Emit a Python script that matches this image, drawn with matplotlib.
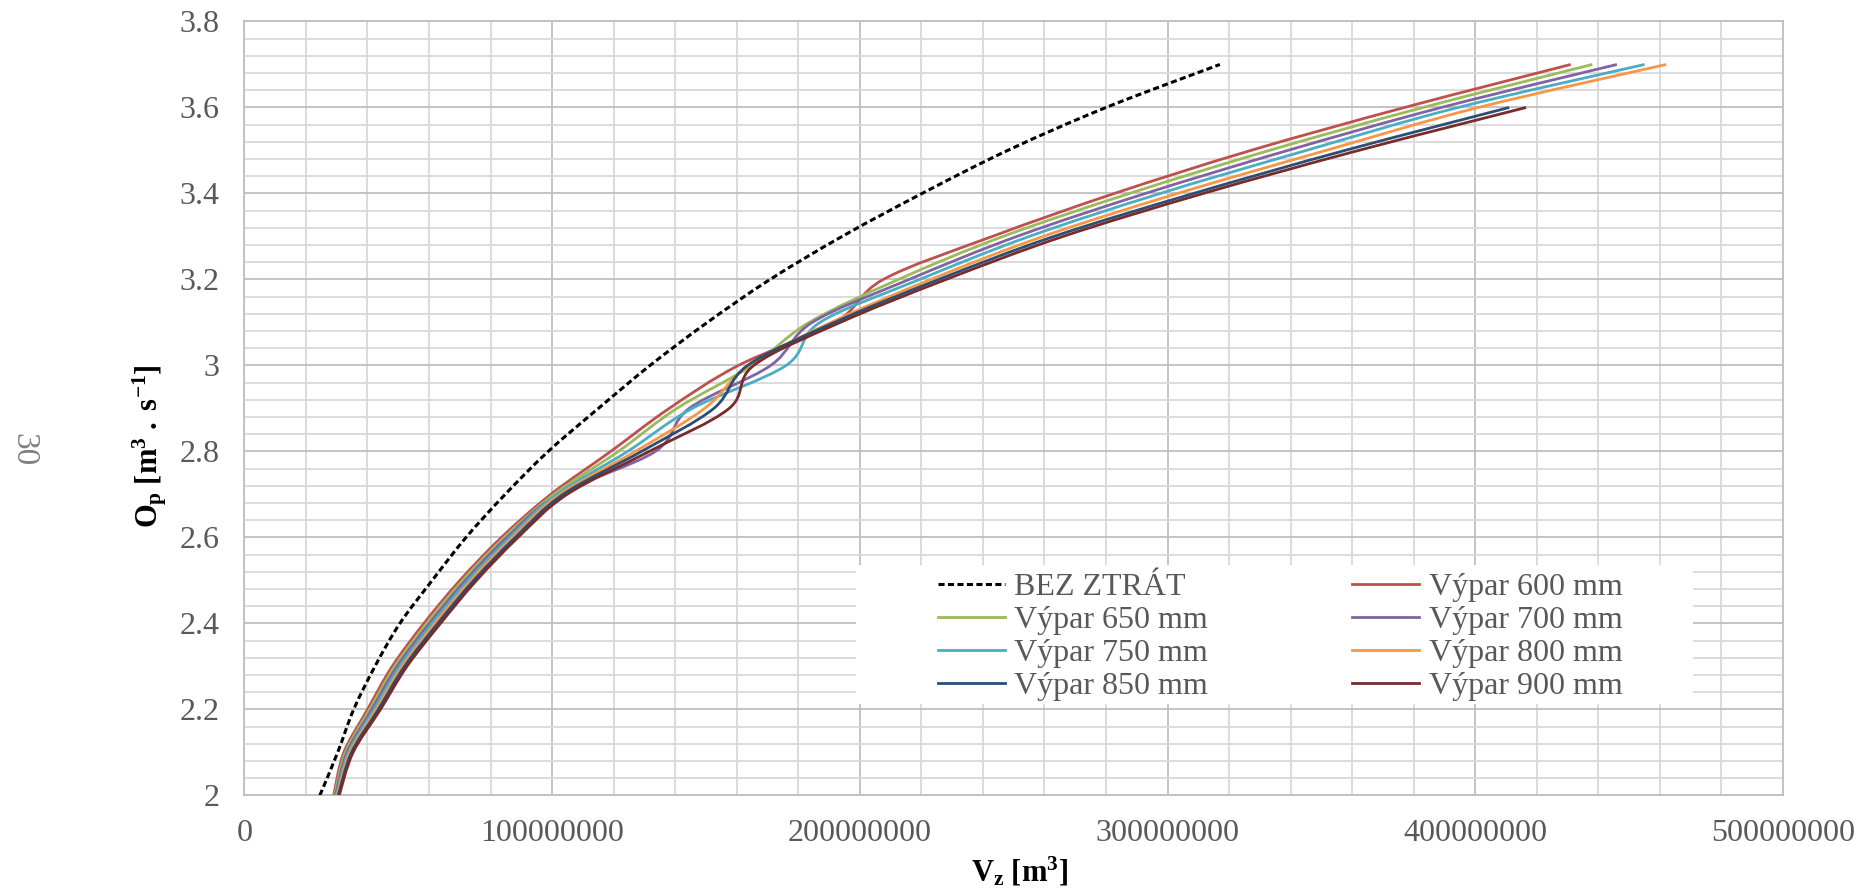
import numpy as np
import matplotlib
matplotlib.use("Agg")
import matplotlib.pyplot as plt
from matplotlib.path import Path
from matplotlib.patches import PathPatch, Rectangle
from matplotlib.lines import Line2D
from matplotlib.ticker import MultipleLocator, FuncFormatter

# Flow values O_p [m3/s] used as data points of every curve
q_long = [2.0, 2.1, 2.2, 2.3, 2.4, 2.5, 2.6, 2.7, 2.8, 2.9, 3.0, 3.1, 3.2, 3.3, 3.4, 3.5, 3.6, 3.7]
q_short = q_long[:-1]

# Storage volume V_z in millions of m3
v_bez = [24.5, 30.3, 35.5, 42.4, 50.5, 61.0, 72.0, 84.7, 98.7, 115.0, 131.8, 150.4, 170.8, 194.2, 220.2, 248.0, 280.0, 317.0]
v_600 = [29.0, 32.3, 40.0, 48.0, 58.3, 70.0, 83.5, 99.5, 119.0, 138.0, 160.5, 192.0, 207.6, 243.0, 282.7, 327.0, 377.0, 431.0]
v_650 = [29.3, 32.8, 40.7, 48.8, 59.2, 70.9, 84.4, 100.5, 121.5, 140.5, 165.0, 183.5, 212.5, 246.5, 287.6, 333.0, 383.0, 438.0]
v_700 = [29.6, 33.3, 41.4, 49.6, 60.1, 71.8, 85.3, 102.0, 133.5, 144.5, 171.0, 184.5, 216.0, 251.0, 292.8, 339.0, 389.0, 446.0]
v_750 = [29.9, 33.8, 42.1, 50.4, 61.0, 72.7, 86.2, 101.5, 124.5, 145.5, 176.0, 187.0, 219.4, 255.0, 297.6, 345.0, 394.4, 455.0]
v_800 = [30.2, 34.3, 42.8, 51.2, 61.9, 73.6, 87.1, 102.5, 127.0, 149.5, 164.0, 190.6, 223.0, 259.5, 303.2, 351.4, 401.0, 462.0]
v_850 = [30.5, 34.8, 43.5, 52.0, 62.8, 74.5, 88.0, 103.5, 129.0, 152.5, 163.5, 191.7, 225.6, 263.0, 308.4, 357.6, 411.0]
v_900 = [30.8, 35.3, 44.2, 52.8, 63.7, 75.4, 88.9, 104.8, 131.5, 157.5, 165.5, 193.6, 228.0, 266.0, 311.6, 362.0, 416.5]

series = [
    ("BEZ ZTRÁT", v_bez, q_long, "black"),
    ("Výpar 600 mm", v_600, q_long, "#C0504D"),
    ("Výpar 650 mm", v_650, q_long, "#9BBB59"),
    ("Výpar 700 mm", v_700, q_long, "#8064A2"),
    ("Výpar 750 mm", v_750, q_long, "#4BACC6"),
    ("Výpar 800 mm", v_800, q_long, "#F79646"),
    ("Výpar 850 mm", v_850, q_short, "#2C4D75"),
    ("Výpar 900 mm", v_900, q_short, "#772C2A"),
]

plt.rcParams['font.family'] = ['Liberation Serif', 'DejaVu Serif']
plt.rcParams['mathtext.fontset'] = 'custom'
plt.rcParams['mathtext.rm'] = 'Liberation Serif'
plt.rcParams['mathtext.bf'] = 'Liberation Serif:bold'
plt.rcParams['mathtext.it'] = 'Liberation Serif:italic'

TXT = '#595959'


def smooth_path(x, y):
    # Excel-like smoothed line: Catmull-Rom segments as cubic Bezier curves
    p = np.column_stack([x, y])
    n = len(p)
    verts = [p[0]]
    codes = [Path.MOVETO]
    for i in range(n - 1):
        p0 = p[i - 1] if i > 0 else p[i]
        p1 = p[i]
        p2 = p[i + 1]
        p3 = p[i + 2] if i + 2 < n else p[i + 1]
        verts += [p1 + (p2 - p0) / 6, p2 - (p3 - p1) / 6, p2]
        codes += [Path.CURVE4] * 3
    return Path(verts, codes)


fig = plt.figure(figsize=(18.7, 8.91), dpi=100)
ax = fig.add_axes([0.1307, 0.1072, 0.8228, 0.8687])

handles = []
for name, v, q, col in series:
    x = np.array(v) * 1e6
    if name == "BEZ ZTRÁT":
        ls, lw = (0, (2.0, 1.1)), 2.2
    else:
        ls, lw = '-', 2.0
    ax.add_patch(PathPatch(smooth_path(x, np.array(q)), fill=False, edgecolor=col,
                           lw=lw, linestyle=ls, capstyle='butt', zorder=3))
    handles.append(Line2D([], [], color=col, lw=lw, linestyle=ls))

ax.set_xlim(0, 5e8)
ax.set_ylim(2, 3.8)
ax.xaxis.set_major_locator(MultipleLocator(1e8))
ax.xaxis.set_minor_locator(MultipleLocator(2e7))
ax.yaxis.set_major_locator(MultipleLocator(0.2))
ax.yaxis.set_minor_locator(MultipleLocator(0.04))
ax.xaxis.set_major_formatter(FuncFormatter(lambda v, p: f"{v:.0f}"))
ax.yaxis.set_major_formatter(FuncFormatter(lambda v, p: f"{v:g}"))
ax.grid(which='major', color='#BFBFBF', lw=1.3)
ax.grid(which='minor', color='#D9D9D9', lw=1.3)
ax.set_axisbelow(True)
ax.tick_params(which='both', length=0)
ax.tick_params(axis='x', labelsize=23, labelcolor=TXT, pad=17)
ax.tick_params(axis='y', labelsize=23, labelcolor=TXT, pad=18)
for s in ax.spines.values():
    s.set_color('#BFBFBF')
    s.set_linewidth(1.3)

# white legend background as in the reference
ax.add_patch(Rectangle((0.3975, 0.1182), 0.544, 0.1796, transform=ax.transAxes,
                       facecolor='white', edgecolor='none', zorder=2))

order = [0, 2, 4, 6, 1, 3, 5, 7]
ax.legend([handles[i] for i in order], [series[i][0] for i in order], ncol=2,
          loc='upper left', bbox_to_anchor=(0.4402, 0.3087), frameon=False,
          borderpad=0, fontsize=23, labelcolor=TXT, handlelength=2.1,
          handletextpad=0.3, columnspacing=4.5, labelspacing=0.12)

fig.text(0.545, 0.0213, r'$\mathbf{V_{z}\ [m^{3}]}$', ha='center', va='center', fontsize=22)
fig.text(0.0802, 0.4994, r'$\mathbf{O_{p}\ [m^{3}\ .\ s^{-1}]}$', ha='center', va='center',
         rotation=90, fontsize=22)
fig.text(0.0125, 0.4949, '30', ha='center', va='center', rotation=270, fontsize=24,
         color='#808080')

fig.savefig('out.png', dpi=100)
